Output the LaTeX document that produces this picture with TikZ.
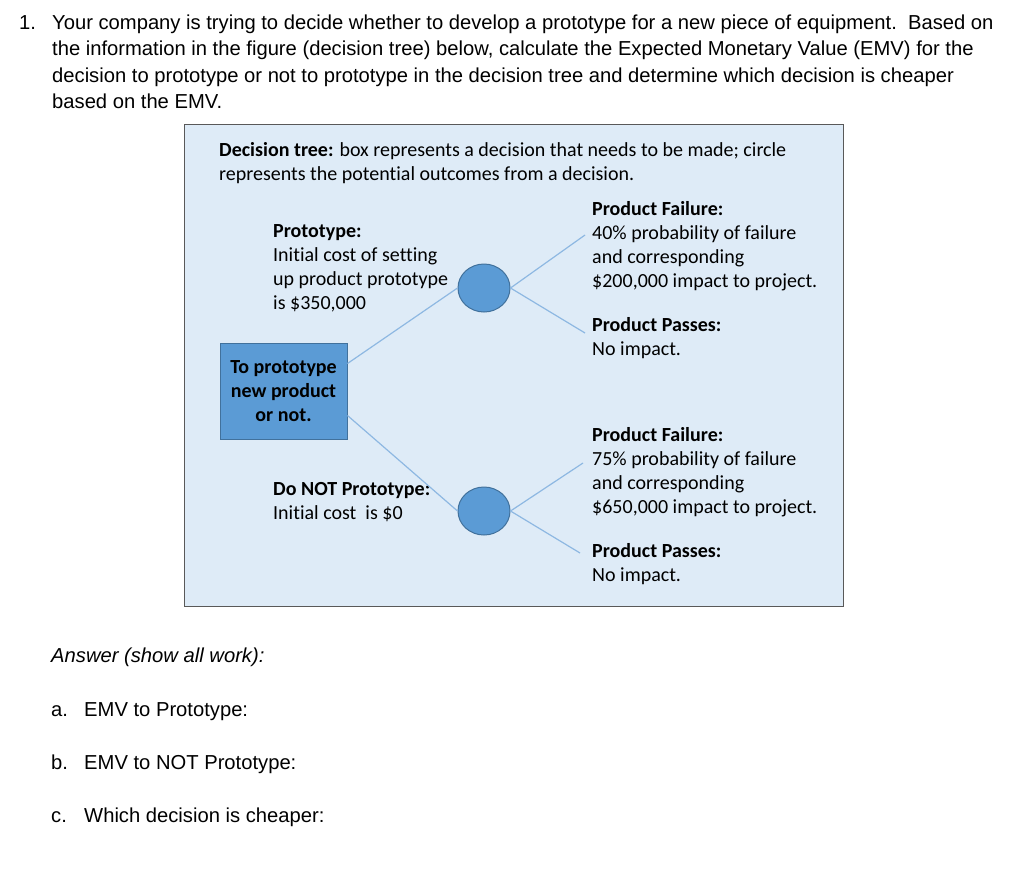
\documentclass[tikz,border=0pt]{standalone}
\usepackage{fontspec}
\setmainfont{Liberation Sans}
\newfontfamily\calfont[Ligatures=NoCommon]{Carlito}
\usetikzlibrary{shapes.geometric}
\definecolor{panelbg}{HTML}{DEEBF7}
\definecolor{nodefill}{HTML}{5B9BD5}
\definecolor{nodeedge}{HTML}{41719C}
\definecolor{branchcol}{HTML}{8EB8E2}
\definecolor{framecol}{HTML}{595959}
\begin{document}
\begin{tikzpicture}[x=1pt,y=-1pt,
  qtext/.style={anchor=base west, inner sep=0pt, font=\fontsize{20.2}{24}\selectfont},
  ctext/.style={anchor=north west, inner sep=0pt, align=left, font=\calfont\fontsize{20}{24}\selectfont},
  panel/.style={rectangle, draw=framecol, line width=1.3pt, fill=panelbg, inner sep=0pt, anchor=north west},
  decisionbox/.style={rectangle, draw=nodeedge, line width=1pt, fill=nodefill, minimum width=127pt, minimum height=96pt, inner sep=0pt, align=center, font=\calfont\bfseries\fontsize{20}{24}\selectfont},
  chance/.style={ellipse, draw=nodeedge, line width=1pt, fill=nodefill, minimum width=52pt, minimum height=48pt, inner sep=0pt},
  branch/.style={draw=branchcol, line width=1.2pt}
]
\fill[white] (0,0) rectangle (1024,868);
\useasboundingbox (0,0) rectangle (1024,868);

% question
\node[qtext] (qnum) at (19,29) {1.};
\node[qtext] (q1) at (52,29) {Your company is trying to decide whether to develop a prototype for a new piece of equipment.\ \ Based on};
\node[qtext] (q2) at (52,55.5) {the information in the figure (decision tree) below, calculate the Expected Monetary Value (EMV) for the};
\node[qtext] (q3) at (52,82) {decision to prototype or not to prototype in the decision tree and determine which decision is cheaper};
\node[qtext] (q4) at (52,108) {based on the EMV.};

% panel
\node[panel, minimum width=659pt, minimum height=482pt] (panel) at (184,124) {};
\node[ctext] (header) at (219,140) {\rule{0pt}{16pt}\textbf{Decision tree:} box represents a decision that needs to be made; circle\\represents the potential outcomes from a decision.};

\node[decisionbox] (dec) at (283.5,391) {To prototype\\new product\\or not.};
\node[chance] (c1) at (484,288) {};
\node[chance] (c2) at (484,511) {};

\node[ctext] (proto) at (273,221) {\rule{0pt}{16pt}\textbf{Prototype:}\\Initial cost of setting\\up product prototype\\is \$350,000};
\node[ctext] (noproto) at (273,479) {\rule{0pt}{16pt}\textbf{Do NOT Prototype:}\\Initial cost\ \ is \$0};

\node[ctext] (fail1) at (592,199) {\rule{0pt}{16pt}\textbf{Product Failure:}\\40\% probability of failure\\and corresponding\\\$200,000 impact to project.};
\node[ctext] (pass1) at (592,315) {\rule{0pt}{16pt}\textbf{Product Passes:}\\No impact.};
\node[ctext] (fail2) at (592,425) {\rule{0pt}{16pt}\textbf{Product Failure:}\\75\% probability of failure\\and corresponding\\\$650,000 impact to project.};
\node[ctext] (pass2) at (592,541) {\rule{0pt}{16pt}\textbf{Product Passes:}\\No impact.};

\coordinate (f1) at (585,235);
\coordinate (p1) at (585,333);
\coordinate (f2) at (583,463);
\coordinate (p2) at (580,553);

\draw[branch] ([yshift=-21pt]dec.north east) -- (c1.west);
\draw[branch] ([yshift=24pt]dec.south east) -- (c2.west);
\draw[branch] (c1.east) -- (f1);
\draw[branch] (c1.east) -- (p1);
\draw[branch] (c2.east) -- (f2);
\draw[branch] (c2.east) -- (p2);

% answers
\node[qtext, font=\itshape\fontsize{20.2}{24}\selectfont] (ans) at (51,662) {Answer (show all work):};
\node[qtext] (la) at (51,716) {a.};
\node[qtext] (ta) at (84,716) {EMV to Prototype:};
\node[qtext] (lb) at (51,769) {b.};
\node[qtext] (tb) at (84,769) {EMV to NOT Prototype:};
\node[qtext] (lc) at (51,822) {c.};
\node[qtext] (tc) at (84,822) {Which decision is cheaper:};
\end{tikzpicture}
\end{document}
